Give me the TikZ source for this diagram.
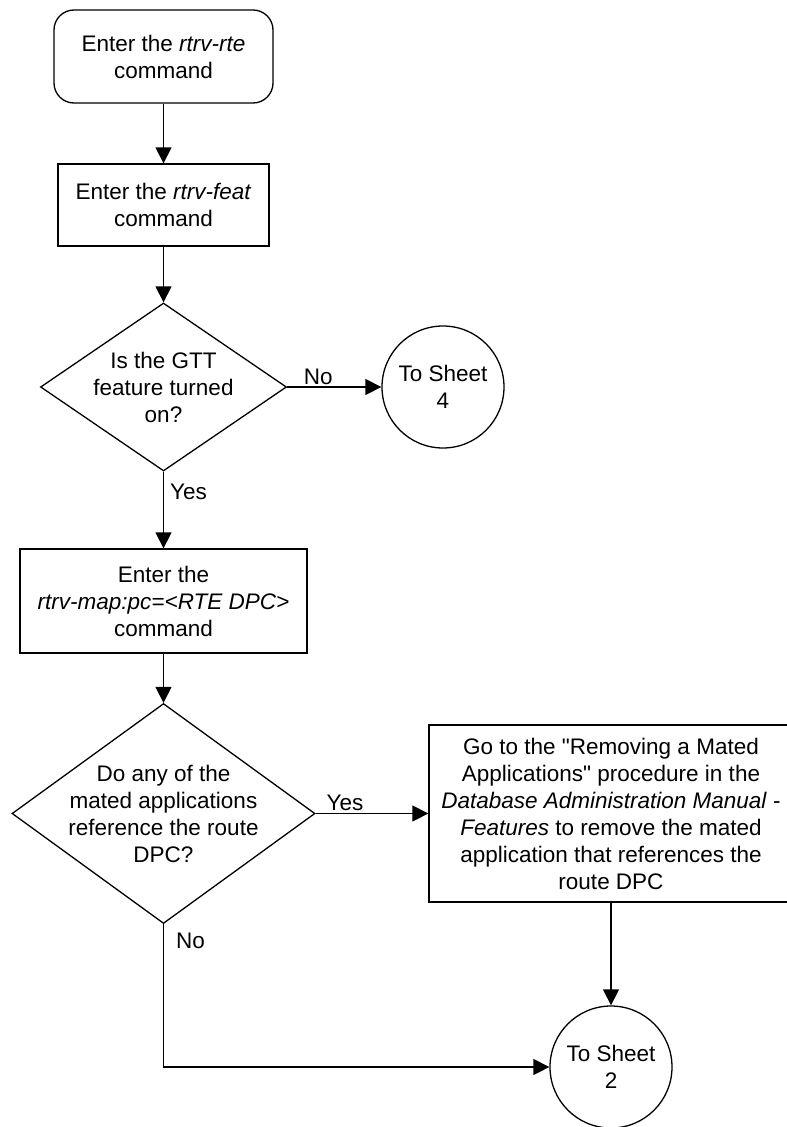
\documentclass[tikz,border=0pt]{standalone}
\usepackage{fontspec}
\setmainfont{Liberation Sans}
\usetikzlibrary{arrows.meta,positioning,shapes.geometric}

\begin{document}
\begin{tikzpicture}[x=1pt,y=-1pt,font=\fontsize{22.5}{27}\selectfont,line width=1.3pt,
  every node/.style={align=center},
  cmdbox/.style={draw,rectangle,inner sep=0pt},
  startbox/.style={draw,rectangle,rounded corners=20pt,inner sep=0pt},
  decision/.style={draw,diamond,inner sep=0pt},
  sheet/.style={draw,circle,minimum size=122pt,inner sep=0pt},
  flow/.style={-{Triangle[length=16pt,width=16pt]}},
  lbl/.style={inner sep=2pt}]
\useasboundingbox (0,0) rectangle (787,1127);
\node[startbox,minimum width=219pt,minimum height=93pt] (rte) at (163.5,56.5) {Enter the \textit{rtrv-rte}\\command};
\node[cmdbox,minimum width=211pt,minimum height=82pt] (feat) at (163.5,205) {Enter the \textit{rtrv-feat}\\command};
\node[decision,minimum width=246pt,minimum height=168pt] (gtt) at (163.5,387) {};
\node (gtttext) at (gtt) {Is the GTT\\feature turned\\on?};
\node[sheet] (sheet4) at (443,387) {To Sheet\\4};
\node[cmdbox,minimum width=287pt,minimum height=104pt] (map) at (163.5,601) {Enter the\\\textit{rtrv-map:pc=<RTE DPC>}\\command};
\node[decision,minimum width=303pt,minimum height=220pt] (mated) at (163.5,813.5) {};
\node (matedtext) at (mated) {Do any of the\\mated applications\\reference the route\\DPC?};
\node[cmdbox,minimum width=364pt,minimum height=177pt] (remove) at (611,813.5) {Go to the \textquotedbl Removing a Mated\\Applications\textquotedbl{} procedure in the\\\textit{Database Administration Manual} -\\\textit{Features} to remove the mated\\application that references the\\route DPC};
\node[sheet] (sheet2) at (611,1067) {To Sheet\\2};

\draw[flow] (rte) -- (feat);
\draw[flow] (feat) -- (gtt);
\draw[flow] (gtt) -- node[lbl,above,pos=0.33] {No} (sheet4);
\draw[flow] (gtt) -- node[lbl,right,pos=0.27,xshift=4pt] {Yes} (map);
\draw[flow] (map) -- (mated);
\draw[flow] (mated) -- node[lbl,above,pos=0.26] {Yes} (remove);
\draw[flow] (remove) -- (sheet2);
\draw[flow] (mated.south) |- node[lbl,pos=0.02,anchor=north west,xshift=10pt] {No} (sheet2);
\end{tikzpicture}
\end{document}
